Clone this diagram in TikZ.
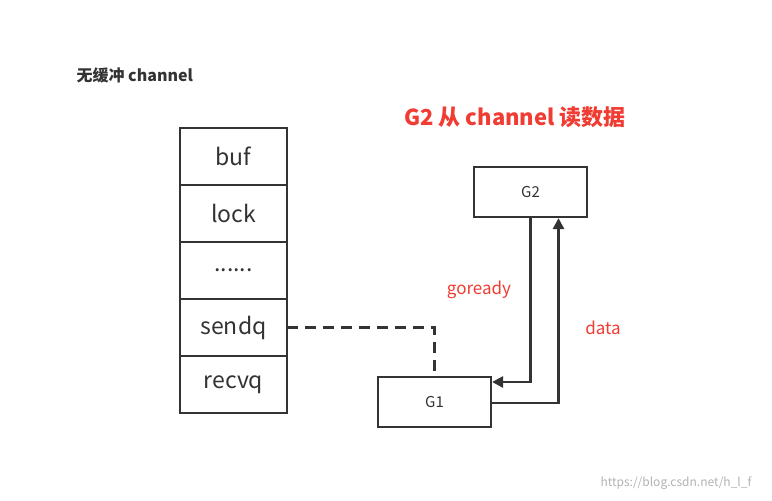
\documentclass[tikz,border=0pt]{standalone}
\usepackage{fontspec}
\setmainfont{Noto Sans CJK SC}
\usetikzlibrary{arrows.meta,positioning}
\definecolor{ink}{RGB}{51,51,51}
\definecolor{redtxt}{RGB}{240,60,50}
\tikzset{
  cell/.style={draw=ink, line width=2.2pt, outer sep=0pt, minimum width=107pt, minimum height=57pt, inner sep=0pt, font=\fontsize{23}{23}\selectfont, text=ink},
  gbox/.style={draw=ink, line width=2.2pt, minimum width=113pt, minimum height=50pt, inner sep=0pt, font=\fontsize{15}{15}\selectfont, text=ink},
  link/.style={draw=ink, line width=2.8pt},
  lbl/.style={text=redtxt, font=\fontsize{17}{17}\selectfont}
}
\begin{document}
\begin{tikzpicture}[x=1pt,y=-1pt]
\useasboundingbox (0,0) rectangle (772,501);
% titres
\node[anchor=west, text=ink, font=\bfseries\fontsize{16}{16}\selectfont] (title) at (73,75) {无缓冲 channel};
\node[text=redtxt, font=\bfseries\fontsize{22}{22}\selectfont] (head) at (515,117) {G2 从 channel 读数据};
% channel
\node[cell] (buf) at (233.5,156.5) {buf};
\node[cell, below=0pt of buf] (lock) {lock};
\node[cell, below=0pt of lock] (dots) {......};
\node[cell, below=0pt of dots] (sendq) {sendq};
\node[cell, below=0pt of sendq] (recvq) {recvq};
% goroutines
\node[gbox] (g2) at (530.5,192) {G2};
\node[gbox] (g1) at (434.5,402) {G1};
\coordinate (turn) at (g1.north |- sendq.east);
% liens
\draw[link, dashed, dash pattern=on 11pt off 7pt] (sendq.east) -- (turn) -- (g1.north);
\draw[link, -{Triangle[length=11pt,width=11pt]}] (g2.south) |- ([yshift=20pt]g1.east);
\draw[link, -{Triangle[length=11pt,width=11pt]}] ([yshift=-1pt]g1.east) -| ([xshift=28pt]g2.south);
\node[lbl] (goready) at (479,290) {goready};
\node[lbl] (data) at (603,328) {data};
\node[text=gray!60, font=\fontsize{12}{12}\selectfont] (mark) at (676,483) {https://blog.csdn.net/h\_l\_f};
\end{tikzpicture}
\end{document}
